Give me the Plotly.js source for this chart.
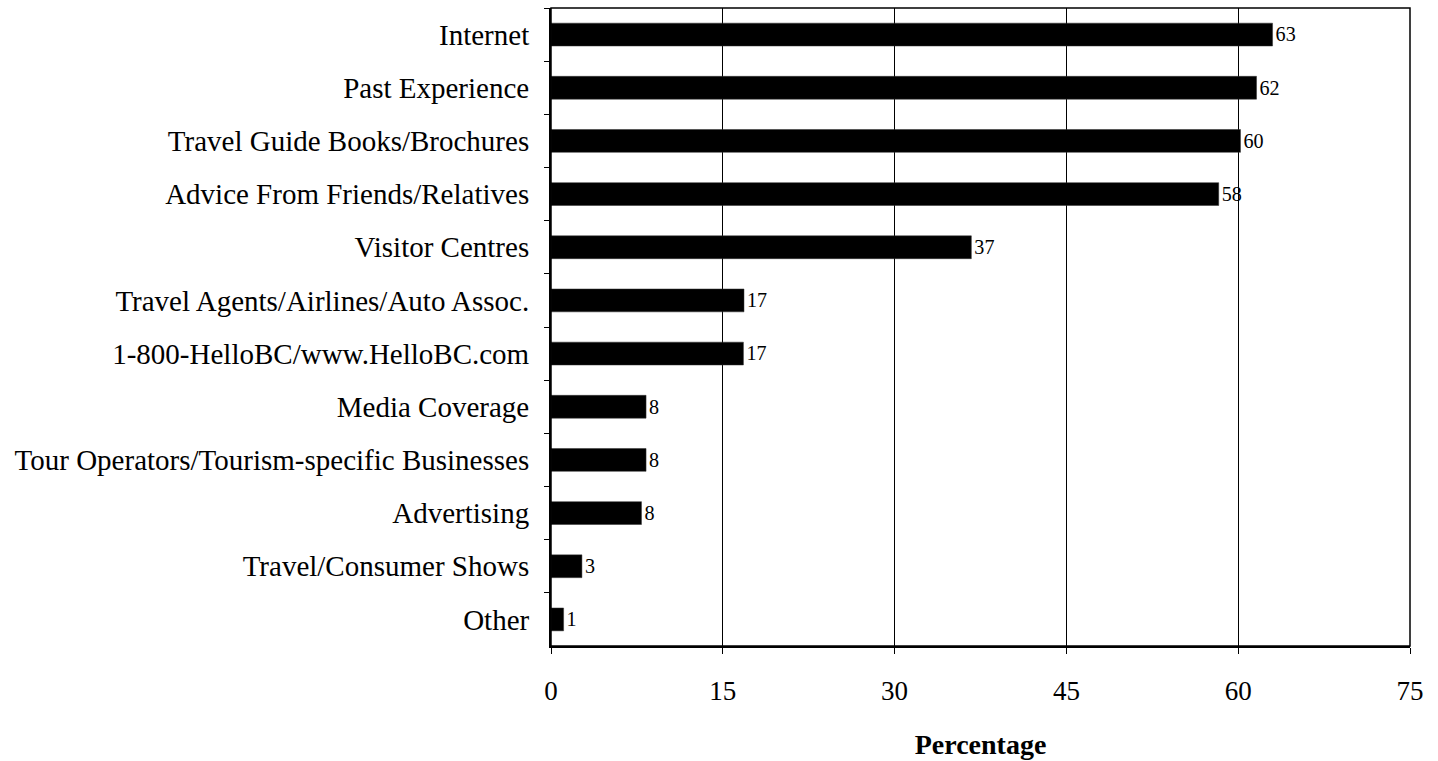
<!DOCTYPE html>
<html>
<head>
<meta charset="utf-8">
<script src="https://cdn.plot.ly/plotly-3.0.1.min.js"></script>
<style>
html,body{margin:0;padding:0;background:#fff;}
#chart{width:1438px;height:761px;}
</style>
</head>
<body>
<div id="chart"></div>
<script>
const categories = [
  "Internet",
  "Past Experience",
  "Travel Guide Books/Brochures",
  "Advice From Friends/Relatives",
  "Visitor Centres",
  "Travel Agents/Airlines/Auto Assoc.",
  "1-800-HelloBC/www.HelloBC.com",
  "Media Coverage",
  "Tour Operators/Tourism-specific Businesses",
  "Advertising",
  "Travel/Consumer Shows",
  "Other"
];
const percentages = [63.0, 61.6, 60.2, 58.3, 36.7, 16.85, 16.8, 8.3, 8.3, 7.9, 2.7, 1.1];
const valueLabels = ["63", "62", "60", "58", "37", "17", "17", "8", "8", "8", "3", "1"];
const xTicks = [0, 15, 30, 45, 60, 75];

const FONT = "'Liberation Serif', 'DejaVu Serif', serif";

const trace = {
  type: "bar",
  orientation: "h",
  y: categories,
  x: percentages,
  text: valueLabels,
  textposition: "outside",
  textfont: {family: FONT, size: 22, color: "#000"},
  cliponaxis: false,
  marker: {color: "#000", line: {color: "#333", width: 0.5}},
  hoverinfo: "x+y"
};

const layout = {
  width: 1438,
  height: 761,
  margin: {l: 551, r: 28, t: 8, b: 115, autoexpand: false},
  paper_bgcolor: "#fff",
  plot_bgcolor: "#fff",
  font: {family: FONT, color: "#000"},
  bargap: 0.57,
  showlegend: false,
  xaxis: {
    range: [0, 75],
    tickvals: xTicks,
    ticktext: xTicks.map(String),
    showgrid: true,
    gridcolor: "#000",
    gridwidth: 1,
    zeroline: false,
    showline: true,
    linecolor: "#000",
    linewidth: 2,
    ticks: "outside",
    ticklen: 6,
    tickcolor: "#000",
    tickwidth: 1,
    tickfont: {family: FONT, size: 27, color: "#000"},
    ticklabelstandoff: 14,
    title: {text: "<b>Percentage</b>", font: {family: FONT, size: 28, color: "#000"}, standoff: 29},
    fixedrange: true
  },
  yaxis: {
    type: "category",
    autorange: "reversed",
    showgrid: false,
    zeroline: false,
    showline: true,
    linecolor: "#000",
    linewidth: 2,
    ticks: "outside",
    tickson: "boundaries",
    ticklen: 5,
    tickcolor: "#000",
    tickwidth: 1,
    tickfont: {family: FONT, size: 29, color: "#000"},
    ticklabelstandoff: 14,
    fixedrange: true
  },
  shapes: [{
    type: "rect", xref: "paper", yref: "paper",
    x0: 0, x1: 1, y0: 0, y1: 1,
    line: {color: "#000", width: 1.5}, layer: "above"
  }]
};

Plotly.newPlot("chart", [trace], layout, {displayModeBar: false, staticPlot: true});
</script>
</body>
</html>
